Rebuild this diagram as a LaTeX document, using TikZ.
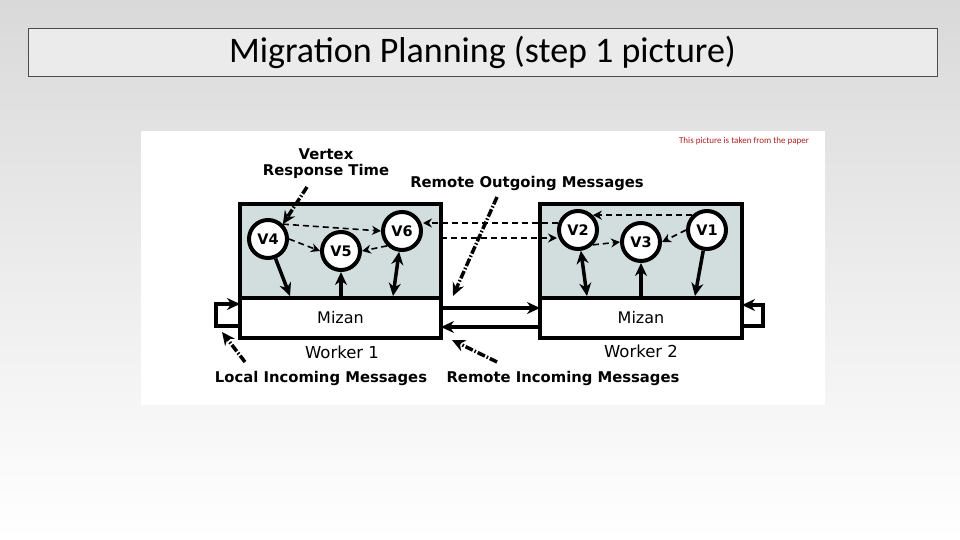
\documentclass[tikz,border=0pt]{standalone}
\usepackage{fontspec}
\setmainfont{DejaVu Sans}
\newfontfamily\titlefont{Carlito}
\usetikzlibrary{arrows.meta}
\definecolor{slidegray}{HTML}{D9D9D9}
\definecolor{boxgray}{HTML}{D2DEDE}
\definecolor{notered}{HTML}{B02020}
\tikzset{
  lbl/.style={font=\fontsize{14.8}{17}\selectfont\bfseries, align=center},
  vtx/.style={circle, draw, line width=4pt, fill=white, minimum size=38pt, inner sep=0pt, font=\fontsize{14.5}{17}\selectfont\bfseries},
  solid arrow/.style={line width=3.5pt, -{Stealth[length=13pt,width=12pt]}},
  both arrow/.style={line width=3.5pt, {Stealth[length=13pt,width=12pt]}-{Stealth[length=13pt,width=12pt]}},
  msg arrow/.style={line width=1.6pt, dash pattern=on 6pt off 4pt, -{Stealth[length=9pt,width=9pt]}},
  note arrow/.style={line width=3.5pt, dash pattern=on 8pt off 2pt on 1.5pt off 2pt, -{Stealth[length=13pt,width=12pt]}},
  frame/.style={draw, line width=4pt}
}
\begin{document}
\begin{tikzpicture}[x=1pt,y=-1pt]
  % slide background
  \shade[top color=slidegray, bottom color=white] (0,0) rectangle (960,540);
  \useasboundingbox (0,0) rectangle (960,540);
  \node[draw=black!70, fill=black!8, minimum width=909pt, minimum height=48pt, inner sep=0pt,
        font=\titlefont\fontsize{36}{40}\selectfont] (title) at (482.5,52) {Migration Planning (step 1 picture)};
  \fill[white] (141,131) rectangle (825,405);
  \node[text=notered, font=\titlefont\fontsize{9}{10}\selectfont] (note) at (744,141) {This picture is taken from the paper};

  % workers
  \draw[frame, fill=boxgray] (240,204) rectangle (441,298);
  \draw[frame, fill=boxgray] (540,204) rectangle (742,298);
  \node[frame, fill=white, minimum width=201pt, minimum height=40pt, inner sep=0pt,
        font=\fontsize{16}{18}\selectfont] (miz1) at (340.5,318) {Mizan};
  \node[frame, fill=white, minimum width=202pt, minimum height=40pt, inner sep=0pt,
        font=\fontsize{16}{18}\selectfont] (miz2) at (641,318) {Mizan};
  \node[font=\fontsize{16.5}{19}\selectfont] (w1) at (342,352) {Worker 1};
  \node[font=\fontsize{16.5}{19}\selectfont] (w2) at (641,351) {Worker 2};

  % vertices
  \node[vtx] (v4) at (268,239) {V4};
  \node[vtx] (v5) at (341,251) {V5};
  \node[vtx] (v6) at (402,231) {V6};
  \node[vtx] (v2) at (578,230) {V2};
  \node[vtx] (v3) at (641,242) {V3};
  \node[vtx] (v1) at (707,230) {V1};

  % vertex to Mizan
  \coordinate (m4) at (290,296);
  \coordinate (m5) at (341,296);
  \coordinate (m6) at (393,296);
  \coordinate (m2) at (587,296);
  \coordinate (m3) at (641,296);
  \coordinate (m1) at (695,296);
  \draw[solid arrow] (v4) -- (m4);
  \draw[solid arrow] (m5) -- (v5);
  \draw[both arrow] (v6) -- (m6);
  \draw[both arrow] (v2) -- (m2);
  \draw[solid arrow] (m3) -- (v3);
  \draw[solid arrow] (v1) -- (m1);

  % messages between vertices
  \draw[msg arrow] (v4.north east) -- (v6.west);
  \draw[msg arrow] (v4.east) -- (v5.west);
  \draw[msg arrow] (v6.south west) -- (v5.east);
  \draw[msg arrow] (v1.north west) -- (v2.north east);
  \draw[msg arrow] (v2.south east) -- (v3.west);
  \draw[msg arrow] (v1.west) -- (v3.east);
  \coordinate (e1) at (441,238);
  \coordinate (e2) at (558,223);
  \draw[msg arrow] (e2) -- (v6.east |- e2);
  \draw[msg arrow] (e1) -- (v2.west |- e1);

  % links between workers
  \coordinate (a1) at (441,308);
  \coordinate (a2) at (540,308);
  \coordinate (b1) at (441,327);
  \coordinate (b2) at (540,327);
  \draw[solid arrow] (a1) -- (a2);
  \draw[solid arrow] (b2) -- (b1);
  \draw[solid arrow] (240,326) -- (216,326) -- (216,304) -- (240,304);
  \draw[solid arrow] (742,326) -- (763,326) -- (763,305) -- (742,305);

  % annotations
  \node[lbl] (rt) at (326,164) {Vertex\\[-1pt]Response Time};
  \node[lbl] (ro) at (527,183) {Remote Outgoing Messages};
  \node[lbl] (li) at (321,378) {Local Incoming Messages};
  \node[lbl] (ri) at (563,378) {Remote Incoming Messages};
  \draw[note arrow] (307,187) -- (v4.north east);
  \draw[note arrow] (497,197) -- (453,296);
  \draw[note arrow] (245,362) -- (222,332);
  \draw[note arrow] (497,362) -- (452,340);
\end{tikzpicture}
\end{document}
